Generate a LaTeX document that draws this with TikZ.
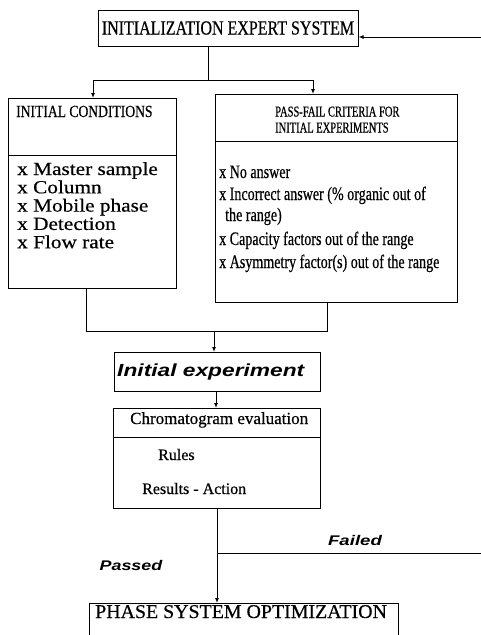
\documentclass[tikz,border=0pt]{standalone}
\usepackage{fontspec}
\setmainfont{Liberation Serif}
\newfontfamily\hsans{Liberation Sans}
\usetikzlibrary{arrows.meta}
\newcommand\fs[3]{\fontsize{#1}{#2}\selectfont\addfontfeatures{FakeStretch=#3,FakeBold=0.5}}
\newcommand\fss[3]{\fontsize{#1}{#2}\selectfont\addfontfeatures{FakeStretch=#3}}
\begin{document}
\begin{tikzpicture}[x=1pt,y=-1pt,
  box/.style={draw,line width=1pt,inner sep=0pt,anchor=north west},
  ln/.style={line width=1pt},
  arr/.style={line width=1pt,-{Latex[length=5pt,width=4pt]}},
  txt/.style={inner sep=0pt,anchor=base west},
  lab/.style={inner sep=0pt,font=\hsans\bfseries\itshape}]
\useasboundingbox (0,0) rectangle (481,635);

% top box
\node[box,anchor=center,minimum width=260pt,minimum height=36pt] (top) at (228,28) {\fs{20}{24}{0.8}INITIALIZATION EXPERT SYSTEM};

% left box
\node[box,minimum width=168pt,minimum height=190pt] (ic) at (8,98) {};
\draw[ln] (8,155) -- (176,155);
\node[txt] (ict) at (16,117) {\fs{17}{20}{0.8}INITIAL CONDITIONS};
\node[txt] (ic1) at (17,175) {\fs{18.5}{20}{1.15}x Master sample};
\node[txt] (ic2) at (17,193.3) {\fs{18.5}{20}{1.15}x Column};
\node[txt] (ic3) at (17,211.6) {\fs{18.5}{20}{1.15}x Mobile phase};
\node[txt] (ic4) at (17,229.9) {\fs{18.5}{20}{1.15}x Detection};
\node[txt] (ic5) at (17,248.2) {\fs{18.5}{20}{1.15}x Flow rate};

% right box
\node[box,minimum width=242pt,minimum height=208pt] (pf) at (215,94) {};
\draw[ln] (215,141) -- (457,141);
\node[txt] (pft1) at (275,116.5) {\fs{15}{18}{0.7}PASS-FAIL CRITERIA FOR};
\node[txt] (pft2) at (275,132.5) {\fs{15}{18}{0.7}INITIAL EXPERIMENTS};
\node[txt] (pf1) at (219,178) {\fs{19}{22}{0.74}x No answer};
\node[txt] (pf2) at (219,200) {\fs{19}{22}{0.74}x Incorrect answer (\% organic out of};
\node[txt] (pf3) at (225,221) {\fs{19}{22}{0.74}the range)};
\node[txt] (pf4) at (219,245) {\fs{19}{22}{0.74}x Capacity factors out of the range};
\node[txt] (pf5) at (219,268) {\fs{19}{22}{0.74}x Asymmetry factor(s) out of the range};

% initial experiment
\node[box,minimum width=206pt,minimum height=39pt] (ie) at (114,352) {};
\node[inner sep=0pt,anchor=west,font=\hsans\bfseries\itshape] (iet) at (117,372) {\fss{17.5}{20}{1.3}Initial experiment};

% chromatogram evaluation
\node[box,minimum width=207pt,minimum height=100pt] (ce) at (113,408) {};
\draw[ln] (113,437) -- (320,437);
\node[txt] (cet) at (130,424) {\fs{17}{20}{1.0}Chromatogram evaluation};
\node[txt] (cer) at (158,460) {\fs{16}{19}{1.0}Rules};
\node[txt] (cea) at (142,494) {\fs{16}{19}{1.0}Results - Action};

% phase system optimization
\node[box,minimum width=309pt,minimum height=40pt] (ph) at (89,603) {};
\node[txt] (pht) at (95,618) {\fs{19.5}{22}{1.02}PHASE SYSTEM OPTIMIZATION};

% labels
\node[lab,anchor=center] (failed) at (355,540) {\fss{14}{16}{1.33}Failed};
\node[lab,anchor=center] (passed) at (131,565) {\fss{14}{16}{1.28}Passed};

% connectors
\coordinate (j) at (208,80);
\draw[ln] (208,46) -- (j);
\draw[ln] (93,80) -- (313,80);
\draw[arr] (93,80) -- (93,98);
\draw[arr] (313,80) -- (313,94);
\coordinate (m) at (214,331);
\draw[ln] (86,288) -- (86,331) -- (327,331) -- (327,302);
\draw[arr] (m) -- (ie.north -| m);
\draw[arr] (216,391) -- (216,408);
\draw[arr] (ce.south) -- (ce.south |- ph.north);
\coordinate (fr) at (484,553);
\draw[arr] (ce.south |- fr) -- (fr) |- ([yshift=-9pt]top.east);
\end{tikzpicture}
\end{document}
